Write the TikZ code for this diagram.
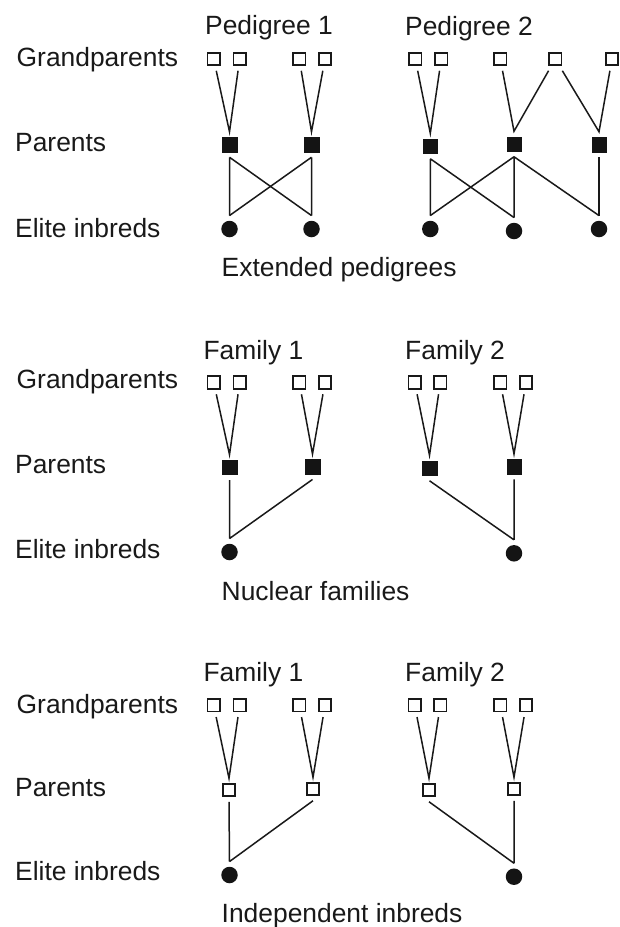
\documentclass[tikz,border=0pt]{standalone}
\usepackage{fontspec}
\setmainfont{Liberation Sans}
\begin{document}
\begin{tikzpicture}[x=1pt,y=-1pt,
  lbl/.style={anchor=base west,inner sep=0pt,font=\fontsize{26.4}{30}\selectfont,text=black!90},
  gpbox/.style={draw=black!90,line width=1.7pt,fill=white,minimum size=12.5pt,inner sep=0pt,outer sep=5.5pt},
  parfill/.style={fill=black!92,draw=black!92,line width=0.5pt,minimum size=14.5pt,inner sep=0pt,outer sep=5.5pt},
  paropen/.style={draw=black!90,line width=1.7pt,fill=white,minimum size=12.5pt,inner sep=0pt,outer sep=5.5pt},
  elite/.style={circle,fill=black!92,minimum size=16.5pt,inner sep=0pt,outer sep=5.2pt},
  link/.style={draw=black!90,line width=1.5pt}]
\useasboundingbox (0,0) rectangle (620,927);

% ---------- Extended pedigrees ----------
\node[lbl] (tA1) at (205,34.5) {Pedigree 1};
\node[lbl] (tA2) at (405,35) {Pedigree 2};
\node[lbl] (rA1) at (16.5,66) {Grandparents};
\node[lbl] (rA2) at (15,151.7) {Parents};
\node[lbl] (rA3) at (15,237) {Elite inbreds};
\node[lbl] (cA) at (221.5,276) {Extended pedigrees};

\foreach \n/\x in {1/213.7,2/239.7,3/299.3,4/325,5/415.3,6/441.3,7/500.3,8/555.3,9/612}
  \node[gpbox] (gA\n) at (\x,59) {};
\node[parfill] (pA1) at (229.5,144.5) {};
\node[parfill] (pA2) at (311.5,144.5) {};
\node[parfill] (pA3) at (430.3,146) {};
\node[parfill] (pA4) at (514,144) {};
\node[parfill] (pA5) at (599,144.5) {};
\node[elite] (eA1) at (229.5,229) {};
\node[elite] (eA2) at (311.5,229) {};
\node[elite] (eA3) at (430.3,229) {};
\node[elite] (eA4) at (514,231) {};
\node[elite] (eA5) at (599,229) {};

\path[link] (gA1) -- (pA1.north) -- (gA2);
\path[link] (gA3) -- (pA2.north) -- (gA4);
\path[link] (gA5) -- (pA3.north) -- (gA6);
\path[link] (gA7) -- (pA4.north) -- (gA8) -- (pA5.north) -- (gA9);
\path[link] (pA1.south) -- (eA1.north) (pA1.south) -- (eA2.north);
\path[link] (pA2.south) -- (eA1.north) (pA2.south) -- (eA2.north);
\path[link] (pA3.south) -- (eA3.north) (pA3.south) -- (eA4.north);
\path[link] (pA4.south) -- (eA3.north) (pA4.south) -- (eA4.north) (pA4.south) -- (eA5.north);
\path[link] (pA5.south) -- (eA5.north);

% ---------- Nuclear families ----------
\node[lbl] (tB1) at (203.3,359) {Family 1};
\node[lbl] (tB2) at (405,359) {Family 2};
\node[lbl] (rB1) at (16.5,388.5) {Grandparents};
\node[lbl] (rB2) at (15,473.3) {Parents};
\node[lbl] (rB3) at (15,558.3) {Elite inbreds};
\node[lbl] (cB) at (221.5,600) {Nuclear families};

\foreach \n/\x in {1/213.7,2/239.7,3/299.3,4/325,5/414.7,6/440.3,7/500.3,8/526}
  \node[gpbox] (gB\n) at (\x,382.5) {};
\node[parfill] (pB1) at (229.5,467.3) {};
\node[parfill] (pB2) at (312.5,466.7) {};
\node[parfill] (pB3) at (429.5,468) {};
\node[parfill] (pB4) at (514,466.7) {};
\node[elite] (eB1) at (229.5,552) {};
\node[elite] (eB2) at (514,553.3) {};

\path[link] (gB1) -- (pB1.north) -- (gB2);
\path[link] (gB3) -- (pB2.north) -- (gB4);
\path[link] (gB5) -- (pB3.north) -- (gB6);
\path[link] (gB7) -- (pB4.north) -- (gB8);
\path[link] (pB1.south) -- (eB1.north) (pB2.south) -- (eB1.north);
\path[link] (pB3.south) -- (eB2.north) (pB4.south) -- (eB2.north);

% ---------- Independent inbreds ----------
\node[lbl] (tC1) at (203.3,681.7) {Family 1};
\node[lbl] (tC2) at (405,681.7) {Family 2};
\node[lbl] (rC1) at (16.5,713.3) {Grandparents};
\node[lbl] (rC2) at (15,796) {Parents};
\node[lbl] (rC3) at (15,880.7) {Elite inbreds};
\node[lbl] (cC) at (221.5,922.7) {Independent inbreds};

\foreach \n/\x in {1/213.7,2/239.7,3/299.3,4/325,5/414.7,6/440.3,7/500.3,8/526}
  \node[gpbox] (gC\n) at (\x,705.3) {};
\node[paropen] (pC1) at (229,790) {};
\node[paropen] (pC2) at (313,789) {};
\node[paropen] (pC3) at (429,790) {};
\node[paropen] (pC4) at (514,789) {};
\node[elite] (eC1) at (229.5,875) {};
\node[elite] (eC2) at (514,876.7) {};

\path[link] (gC1) -- (pC1.north) -- (gC2);
\path[link] (gC3) -- (pC2.north) -- (gC4);
\path[link] (gC5) -- (pC3.north) -- (gC6);
\path[link] (gC7) -- (pC4.north) -- (gC8);
\path[link] (pC1.south) -- (eC1.north) (pC2.south) -- (eC1.north);
\path[link] (pC3.south) -- (eC2.north) (pC4.south) -- (eC2.north);
\end{tikzpicture}
\end{document}
